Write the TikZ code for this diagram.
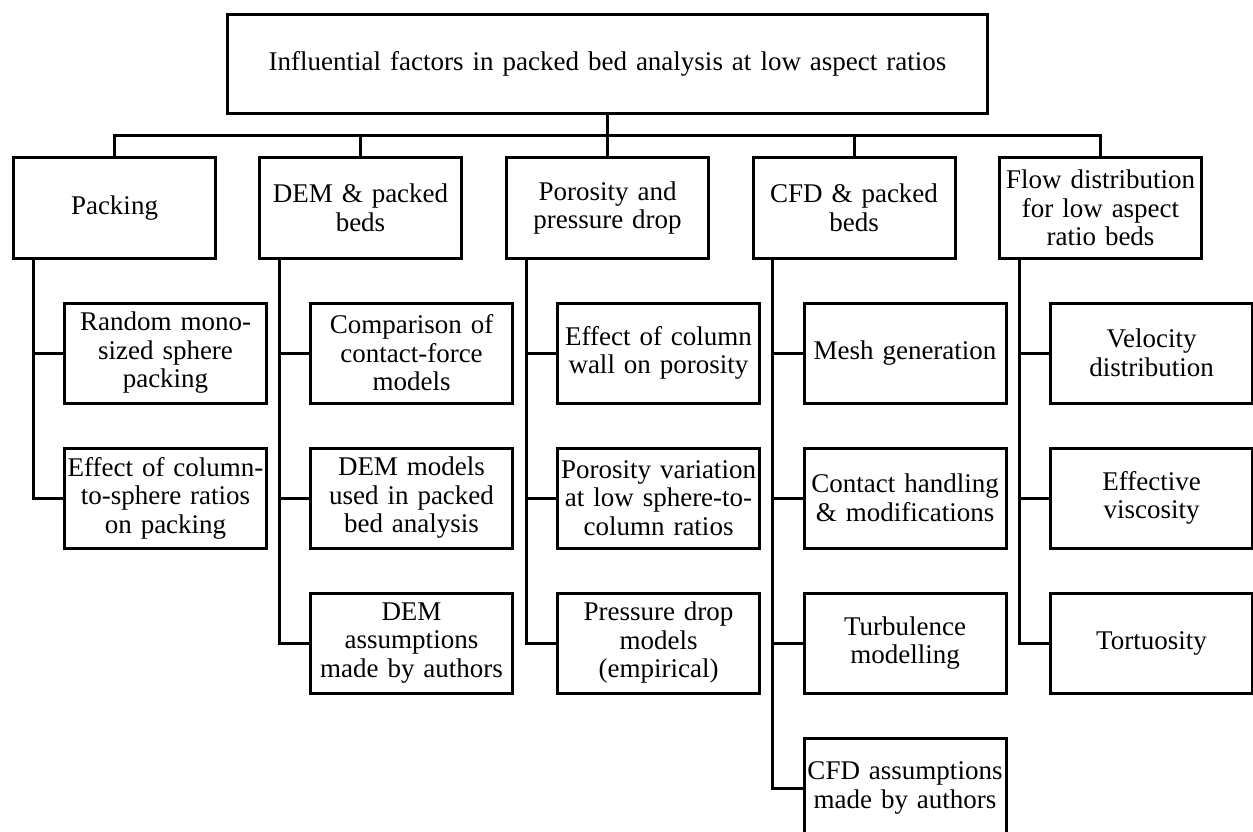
\documentclass[tikz,border=0pt]{standalone}
\usepackage{fontspec}
\setmainfont{Liberation Serif}
\usepackage{tikz}
\usetikzlibrary{positioning}
\newcommand\boxfont{\fontsize{27}{28.5}\selectfont}

\begin{document}
\begin{tikzpicture}[x=1pt,y=-1pt,
  box/.style={draw,line width=3pt,inner sep=0pt,align=center,text width=#1,minimum width=#1,minimum height=100pt,font=\boxfont},
  box/.default=202pt,
  link/.style={line width=3pt}]
\useasboundingbox (0,0) rectangle (1253,832);
\node[box=760pt,minimum height=99pt] (top) at (607.5,64) {Influential factors in packed bed analysis at low aspect ratios};
\coordinate (bus) at (607.5,136);
% categories
\node[box] (pk)   at (114.5,208) {Packing};
\node[box] (dem)  at (360.5,208) {DEM \& packed\\beds};
\node[box] (por)  at (607.5,208) {Porosity and\\pressure drop};
\node[box] (cfd)  at (854,208)   {CFD \& packed\\beds};
\node[box] (flow) at (1100.5,208) {Flow distribution\\for low aspect\\ratio beds};
% sub-topics
\node[box] (pk1) at (165.5,353) {Random mono-\\sized sphere\\packing};
\node[box] (pk2) at (165.5,498) {Effect of column-\\to-sphere ratios\\on packing};
\node[box] (dem1) at (411.5,353) {Comparison of\\contact-force\\models};
\node[box] (dem2) at (411.5,498) {DEM models\\used in packed\\bed analysis};
\node[box] (dem3) at (411.5,643) {DEM\\assumptions\\made by authors};
\node[box] (por1) at (658.5,353) {Effect of column\\wall on porosity};
\node[box] (por2) at (658.5,498) {Porosity variation\\at low sphere-to-\\column ratios};
\node[box] (por3) at (658.5,643) {Pressure drop\\models\\(empirical)};
\node[box] (cfd1) at (905,353) {Mesh generation};
\node[box] (cfd2) at (905,498) {Contact handling\\\& modifications};
\node[box] (cfd3) at (905,643) {Turbulence\\modelling};
\node[box] (cfd4) at (905,788) {CFD assumptions\\made by authors};
\node[box] (flow1) at (1151.5,353) {Velocity\\distribution};
\node[box] (flow2) at (1151.5,498) {Effective\\viscosity};
\node[box] (flow3) at (1151.5,643) {Tortuosity};
% connectors
\draw[link] (top.south) -- (bus);
\foreach \c in {pk,dem,por,cfd,flow}
  \draw[link] (bus) -| (\c.north);
\foreach \c/\k in {pk/pk2,dem/dem3,por/por3,cfd/cfd4,flow/flow3}
  \draw[link] ([xshift=-30pt]\k.west |- \c.south) |- (\k.west);
\foreach \k in {pk1,dem1,dem2,por1,por2,cfd1,cfd2,cfd3,flow1,flow2}
  \draw[link] ([xshift=-30pt]\k.west) -- (\k.west);
\end{tikzpicture}
\end{document}
